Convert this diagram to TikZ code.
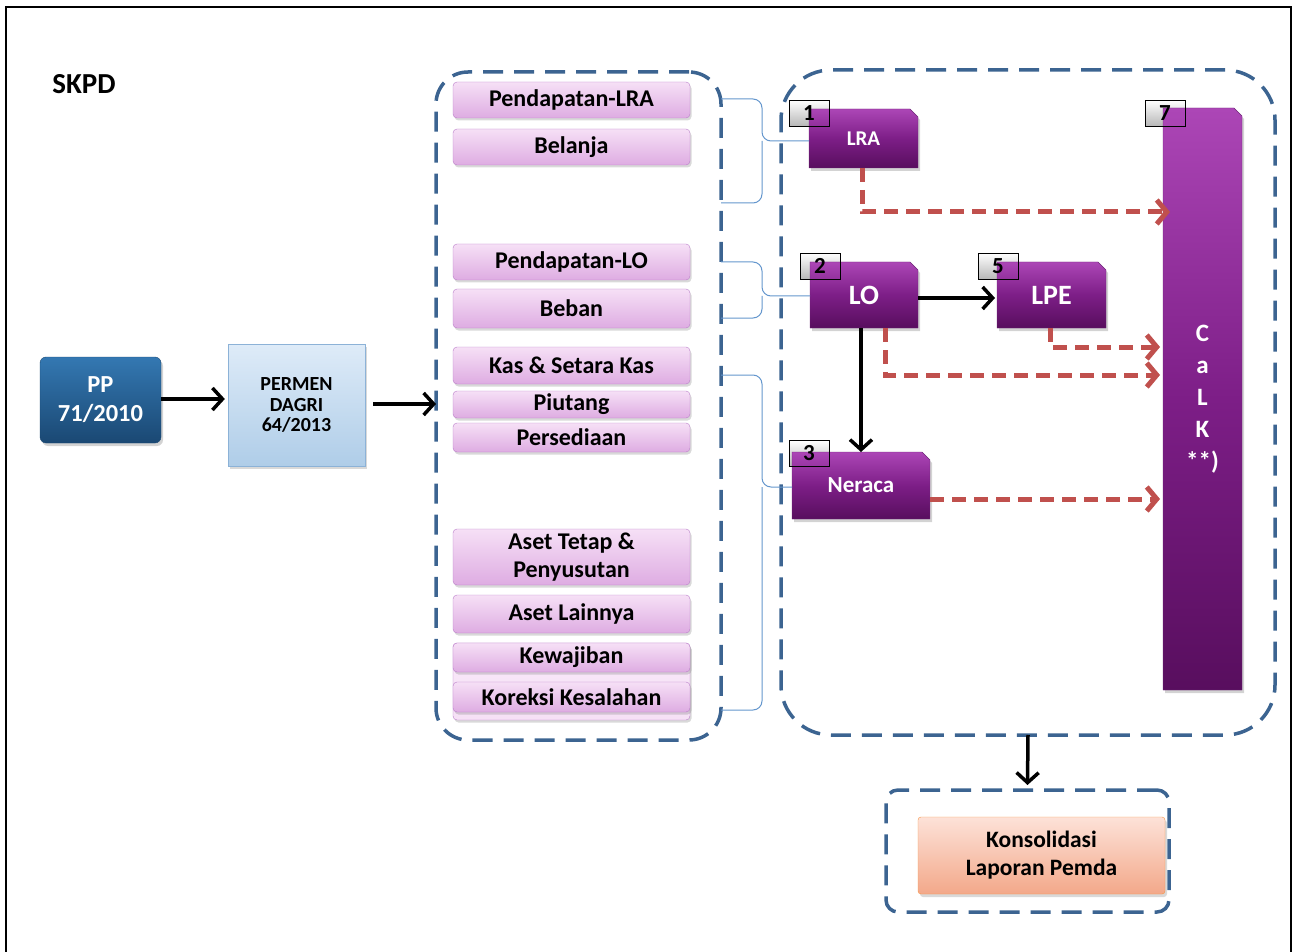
\documentclass[tikz,border=0pt]{standalone}
\usepackage{fontspec}
\setmainfont{Carlito}
\usetikzlibrary{arrows.meta,shapes.misc,shadows,calc}
\definecolor{grpblue}{RGB}{60,100,145}
\definecolor{itemtop}{RGB}{246,224,246}
\definecolor{itembot}{RGB}{222,172,226}
\definecolor{itemline}{RGB}{185,125,200}
\definecolor{purptop}{RGB}{172,70,182}
\definecolor{purpmid}{RGB}{125,30,135}
\definecolor{purpbot}{RGB}{88,14,94}
\definecolor{purpline}{RGB}{110,40,120}
\definecolor{dashred}{RGB}{192,80,77}
\definecolor{braceblue}{RGB}{100,150,205}
\definecolor{pptop}{RGB}{52,120,178}
\definecolor{ppbot}{RGB}{26,72,115}
\definecolor{permtop}{RGB}{222,235,248}
\definecolor{permbot}{RGB}{175,205,232}
\definecolor{permline}{RGB}{140,178,215}
\definecolor{peachtop}{RGB}{253,226,216}
\definecolor{peachbot}{RGB}{243,168,138}
\definecolor{peachline}{RGB}{247,150,70}
\begin{document}
\begin{tikzpicture}[x=1pt,y=-1pt,
  grp/.style={draw=grpblue, line width=3.5pt, dash pattern=on 20pt off 11pt, inner sep=0pt, outer sep=0pt},
  item/.style={draw=itemline, top color=itemtop, bottom color=itembot, rounded corners=4pt,
    minimum width=237pt, inner sep=0pt, outer sep=0pt,
    drop shadow={opacity=0.3, shadow xshift=1.5pt, shadow yshift=-2.5pt},
    font=\bfseries\fontsize{24}{28}\selectfont, text=black, align=center},
  purp/.style={chamfered rectangle, chamfered rectangle corners=north east,
    chamfered rectangle xsep=4pt, chamfered rectangle ysep=4pt,
    draw=purpline, top color=purptop, bottom color=purpbot, middle color=purpmid,
    text=white, inner sep=0pt, outer sep=0pt,
    drop shadow={opacity=0.35, shadow xshift=2pt, shadow yshift=-3pt}},
  lblbg/.style={top color=white, bottom color=black!28, minimum width=40pt, minimum height=26pt, inner sep=0pt},
  lbl/.style={draw=black, line width=0.8pt, minimum width=40pt, minimum height=26pt, inner sep=0pt,
    font=\bfseries\fontsize{23}{23}\selectfont},
  blk/.style={draw=black, line width=3.5pt, -{Straight Barb[length=10pt,width=22pt]}},
  rdash/.style={draw=dashred, line width=5pt, dash pattern=on 14pt off 8pt, -{Straight Barb[length=10pt,width=24pt]}},
  brace/.style={draw=braceblue, line width=1pt, rounded corners=9pt}
]
\useasboundingbox (0,0) rectangle (1294,952);
% outer frame
\draw[line width=2pt] (6,952) -- (6,7) -- (1291,7) -- (1291,952);
\node[font=\bfseries\fontsize{29}{29}\selectfont, anchor=center] (skpd) at (84,84) {SKPD};

% left boxes
\node[draw=ppbot, top color=pptop, bottom color=ppbot, rounded corners=6pt, minimum width=121pt, minimum height=86pt,
  inner sep=0pt, text=white, align=center, font=\bfseries\fontsize{24.5}{29}\selectfont,
  drop shadow={opacity=0.35, shadow xshift=2pt, shadow yshift=-3pt}] (pp) at (100.5,400) {PP\\71/2010};
\node[draw=permline, top color=permtop, bottom color=permbot, minimum width=137pt, minimum height=122pt,
  inner sep=0pt, align=center, font=\bfseries\fontsize{20}{20.5}\selectfont,
  drop shadow={opacity=0.3, shadow xshift=2pt, shadow yshift=-3pt}] (permen) at (296.5,405) {PERMEN\\DAGRI\\64/2013};

% groups
\node[grp, rounded corners=32pt, minimum width=285pt, minimum height=668pt] (lgroup) at (578.5,406) {};
\node[grp, rounded corners=50pt, minimum width=494pt, minimum height=665pt] (rgroup) at (1028,402.5) {};
\node[grp, rounded corners=12pt, minimum width=283pt, minimum height=122pt] (bgroup) at (1027.5,851) {};

% items
\node[item, minimum height=36pt] (plra) at (571.5,100) {Pendapatan-LRA};
\node[item, minimum height=36pt] (belanja) at (571.5,147) {Belanja};
\node[item, minimum height=36pt] (plo) at (571.5,262) {Pendapatan-LO};
\node[item, minimum height=39pt] (beban) at (571.5,308.5) {Beban};
\node[item, minimum height=37pt] (kas) at (571.5,365.5) {Kas \& Setara Kas};
\node[item, minimum height=27pt] (piutang) at (571.5,404.5) {Piutang};
\node[item, minimum height=29pt] (persed) at (571.5,437.5) {Persediaan};
\node[item, minimum height=56pt] (aset) at (571.5,557) {Aset Tetap \&\\Penyusutan};
\node[item, minimum height=38pt] (asetl) at (571.5,614) {Aset Lainnya};
\node[item, minimum height=77pt, top color=itemtop!70!white, bottom color=itemtop] (kbg) at (571.5,681.5) {};
\node[item, minimum height=29pt, drop shadow={opacity=0}] (kewaj) at (571.5,657.5) {Kewajiban};
\node[item, minimum height=30pt, drop shadow={opacity=0}] (koreksi) at (571.5,697) {Koreksi Kesalahan};

% number label backgrounds
\node[lblbg] (b1) at (809,113) {};
\node[lblbg] (b7) at (1165,113) {};
\node[lblbg] (b2) at (820,266) {};
\node[lblbg] (b5) at (998,266) {};
\node[lblbg] (b3) at (809,453.5) {};

% purple boxes
\node[purp, minimum width=109pt, minimum height=59pt, font=\bfseries\fontsize{21}{21}\selectfont] (lra) at (863.5,138.5) {LRA};
\node[purp, minimum width=108pt, minimum height=66pt, font=\bfseries\fontsize{28}{28}\selectfont] (lo) at (864,295) {LO};
\node[purp, minimum width=109pt, minimum height=66pt, font=\bfseries\fontsize{28}{28}\selectfont] (lpe) at (1051.5,295) {LPE};
\node[purp, minimum width=138pt, minimum height=67pt, font=\bfseries\fontsize{23}{23}\selectfont] (neraca) at (861,485.5) {Neraca};
\node[purp, minimum width=79pt, minimum height=582pt, align=center, font=\bfseries\fontsize{25}{32}\selectfont] (calk) at (1202.5,399) {C\\a\\L\\K\\**)};

% number labels
\node[lbl] (n1) at (809,113) {1};
\node[lbl] (n7) at (1165,113) {7};
\node[lbl] (n2) at (820,266) {2};
\node[lbl] (n5) at (998,266) {5};
\node[lbl] (n3) at (809,453.5) {3};

% consolidation
\node[draw=peachline, top color=peachtop, bottom color=peachbot, rounded corners=3pt, minimum width=247pt, minimum height=77pt,
  inner sep=0pt, align=center, font=\bfseries\fontsize{23.5}{28}\selectfont,
  drop shadow={opacity=0.3, shadow xshift=2pt, shadow yshift=-3pt}] (kons) at (1041.5,855.5) {Konsolidasi\\Laporan Pemda};

% braces
\draw[brace] (lgroup.east |- 0,99) -- (762,99) -- (762,141) -- (lra.west |- 0,141);
\draw[brace] (lgroup.east |- 0,203) -- (762,203) -- (762,141);
\draw[brace] (lgroup.east |- 0,262) -- (762,262) -- (762,296) -- (lo.west |- 0,296);
\draw[brace] (lgroup.east |- 0,318) -- (762,318) -- (762,296);
\draw[brace] (lgroup.east |- 0,375) -- (762,375) -- (762,487) -- (neraca.west |- 0,487);
\draw[brace] (lgroup.east |- 0,710) -- (762,710) -- (762,487);

% black arrows
\draw[blk] (pp.east |- 0,399) -- ([xshift=-3pt]permen.west |- 0,399);
\draw[blk] ([xshift=8pt]permen.east |- 0,404) -- (lgroup.west |- 0,404);
\draw[blk] (lo.east |- 0,298) -- ([xshift=-2pt]lpe.west |- 0,298);
\draw[blk] ([xshift=-3pt]lo.south) -- ([xshift=-3pt]lo.south |- neraca.north);
\draw[blk] (rgroup.south) -- ([yshift=5pt]bgroup.north);

% red dashed arrows
\draw[rdash] ([xshift=-1.5pt]lra.south) |- ([xshift=7pt]calk.west |- 0,212);
\draw[rdash] ([xshift=-1.5pt]lpe.south) |- ([xshift=-3pt]calk.west |- 0,347);
\draw[rdash] ([xshift=21pt]lo.south) |- ([xshift=-3pt]calk.west |- 0,375);
\draw[rdash] (neraca.east |- 0,499) -- ([xshift=-3pt]calk.west |- 0,499);
\end{tikzpicture}
\end{document}
